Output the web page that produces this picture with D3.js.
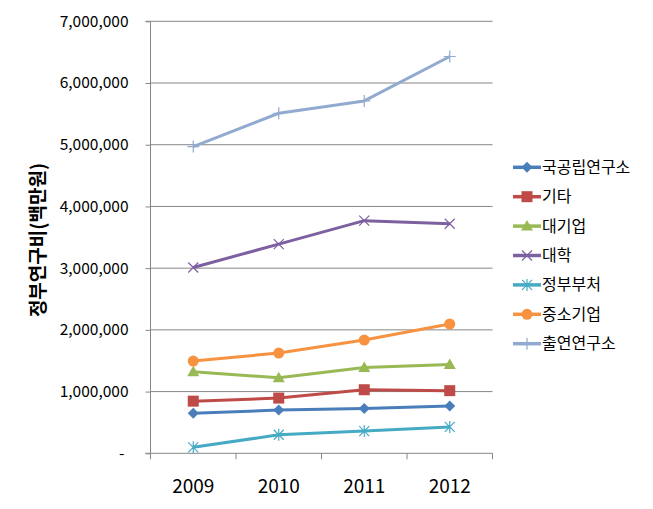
<!DOCTYPE html>
<html><head><meta charset="utf-8">
<script src="https://cdn.jsdelivr.net/npm/d3@7"></script>
<style>body{margin:0;background:#fff;}</style>
</head><body>
<svg id="c" width="653" height="509"></svg>
<script>
const years = ["2009","2010","2011","2012"];
const seriesNames = ["국공립연구소","기타","대기업","대학","정부부처","중소기업","출연연구소"];
const v국공립연구소 = [650000, 700000, 725000, 765000];
const v기타 = [845000, 895000, 1030000, 1015000];
const v대기업 = [1320000, 1225000, 1390000, 1440000];
const v대학 = [3010000, 3390000, 3770000, 3720000];
const v정부부처 = [97000, 300000, 360000, 428000];
const v중소기업 = [1495000, 1625000, 1835000, 2095000];
const v출연연구소 = [4970000, 5510000, 5710000, 6430000];
const yTicks = [0,1000000,2000000,3000000,4000000,5000000,6000000,7000000];
const yTitle = "정부연구비(백만원)";

const values = [v국공립연구소, v기타, v대기업, v대학, v정부부처, v중소기업, v출연연구소];
const colors = ["#4A7EBB","#BE4B48","#98B954","#7D60A0","#46AAC5","#F69240","#92AAD0"];
const markers = ["diamond","square","triangle","x","asterisk","circle","plus"];

const svg = d3.select("#c");
const font = "'Noto Sans CJK KR', 'Noto Sans', sans-serif";
const L = 150.5, R = 492.5, T = 21.3, B = 453.3;
const x = d3.scaleBand().domain(years).range([L, R]).padding(0);
const y = d3.scaleLinear().domain([0, 7000000]).range([B, T]);

// gridlines
svg.append("g").selectAll("line").data(yTicks.filter(d=>d>0)).join("line")
  .attr("x1", L).attr("x2", R).attr("y1", d=>y(d)).attr("y2", d=>y(d))
  .attr("stroke", "#868686").attr("stroke-width", 1);

// y axis
const yAxis = d3.axisLeft(y).tickValues(yTicks).tickSize(5).tickPadding(17)
  .tickFormat(d => d === 0 ? "-" : d3.format(",")(d));
const gy = svg.append("g").attr("transform", `translate(${L},0)`).call(yAxis);
gy.select(".domain").attr("stroke", "#868686").attr("d", `M-5,${T}H0V${B}H-5`);
gy.selectAll(".tick line").attr("stroke", "#868686");
gy.selectAll(".tick text").attr("font-family", font).attr("font-size", 15.5).attr("fill", "#000");
gy.selectAll(".tick").filter(d=>d===0).select("text").attr("dx", -4);

// x axis
const gx = svg.append("g").attr("transform", `translate(0,${B})`);
gx.append("line").attr("x1", L).attr("x2", R).attr("stroke", "#868686");
const bounds = years.map(d => x(d)).concat([R]);
gx.selectAll("line.tk").data(bounds).join("line").attr("class","tk")
  .attr("x1", d=>d).attr("x2", d=>d).attr("y1", 0).attr("y2", 6).attr("stroke", "#868686");
gx.selectAll("text").data(years).join("text")
  .attr("x", d => x(d) + x.bandwidth()/2).attr("y", 40)
  .attr("text-anchor", "middle").attr("font-family", font).attr("font-size", 19).attr("fill", "#000")
  .text(d=>d);

// y title
svg.append("text").attr("transform", "translate(45,240) rotate(-90)")
  .attr("text-anchor", "middle").attr("font-family", font).attr("font-size", 19)
  .attr("font-weight", "bold").attr("fill", "#000").text(yTitle);

function drawMarker(g, type, cx, cy, color) {
  if (type === "diamond") {
    g.append("path").attr("d", `M${cx},${cy-5.5}L${cx+5.5},${cy}L${cx},${cy+5.5}L${cx-5.5},${cy}Z`).attr("fill", color);
  } else if (type === "square") {
    g.append("rect").attr("x", cx-5.5).attr("y", cy-5.5).attr("width", 11).attr("height", 11).attr("fill", color);
  } else if (type === "triangle") {
    g.append("path").attr("d", `M${cx},${cy-6}L${cx+6},${cy+4.5}L${cx-6},${cy+4.5}Z`).attr("fill", color);
  } else if (type === "circle") {
    g.append("circle").attr("cx", cx).attr("cy", cy).attr("r", 5.5).attr("fill", color);
  } else if (type === "x") {
    g.append("path").attr("d", `M${cx-5},${cy-5}L${cx+5},${cy+5}M${cx-5},${cy+5}L${cx+5},${cy-5}`).attr("stroke", color).attr("stroke-width", 1.2);
  } else if (type === "asterisk") {
    g.append("path").attr("d", `M${cx-5},${cy-5}L${cx+5},${cy+5}M${cx-5},${cy+5}L${cx+5},${cy-5}M${cx},${cy-6}L${cx},${cy+6}`).attr("stroke", color).attr("stroke-width", 1.2);
  } else if (type === "plus") {
    g.append("path").attr("d", `M${cx-6},${cy}L${cx+6},${cy}M${cx},${cy-6}L${cx},${cy+6}`).attr("stroke", color).attr("stroke-width", 1.2);
  }
}

const line = d3.line().x((d,i) => x(years[i]) + x.bandwidth()/2).y(d => y(d));
values.forEach((vals, si) => {
  const g = svg.append("g");
  g.append("path").attr("d", line(vals)).attr("fill", "none")
    .attr("stroke", colors[si]).attr("stroke-width", 3).attr("stroke-linejoin", "round");
  vals.forEach((v, i) => drawMarker(g, markers[si], x(years[i]) + x.bandwidth()/2, y(v), colors[si]));
});

// legend
const lg = svg.append("g");
seriesNames.forEach((name, i) => {
  const cy = 167.3 + i * 29.4;
  const g = lg.append("g");
  g.append("line").attr("x1", 513).attr("x2", 541).attr("y1", cy).attr("y2", cy)
    .attr("stroke", colors[i]).attr("stroke-width", 3.5);
  drawMarker(g, markers[i], 527, cy, colors[i]);
  g.append("text").attr("x", 542).attr("y", cy + 5.5).attr("font-family", font)
    .attr("font-size", 16).attr("fill", "#000").text(name);
});
</script>
</body></html>
